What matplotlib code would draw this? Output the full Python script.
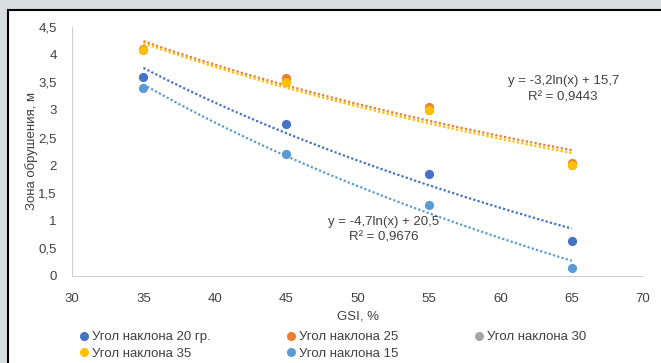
import numpy as np
import matplotlib
matplotlib.use('Agg')
import matplotlib.pyplot as plt
from matplotlib.lines import Line2D
from matplotlib.patches import Rectangle

plt.rcParams['font.family'] = ['Liberation Sans', 'DejaVu Sans']

BG = '#D8DDE0'
TEXT = '#404040'
AXIS = '#D0D0D0'

gsi = [35, 45, 55, 65]
series_names = ['Угол наклона 20 гр.', 'Угол наклона 25', 'Угол наклона 30',
                'Угол наклона 35', 'Угол наклона 15']
angle_20 = [3.6, 2.75, 1.85, 0.63]
angle_25 = [4.1, 3.57, 3.05, 2.04]
angle_30 = [4.08, 3.5, 3.0, 2.0]
angle_35 = [4.08, 3.5, 3.0, 2.0]
angle_15 = [3.4, 2.2, 1.28, 0.15]
colors = ['#4472C4', '#ED7D31', '#A5A5A5', '#FFC000', '#5B9BD5']
x_ticks = [30, 35, 40, 45, 50, 55, 60, 65, 70]
y_ticks = [0, 0.5, 1, 1.5, 2, 2.5, 3, 3.5, 4, 4.5]

fig = plt.figure(figsize=(6.61, 3.63), dpi=100, facecolor=BG)
# white chart panel with black frame (top / left)
fig.patches.append(Rectangle((8 / 661, -0.05), 1.1, 1 - 10 / 363 + 0.05,
                             transform=fig.transFigure, facecolor='white',
                             edgecolor='black', linewidth=1.5, zorder=-5))

ax = fig.add_axes([0.109, 0.240, 0.864, 0.686])
ax.set_facecolor('none')

all_series = [angle_20, angle_25, angle_30, angle_35, angle_15]
order = [2, 1, 3, 0, 4]
for i in order:
    ax.scatter(gsi, all_series[i], s=44, color=colors[i], zorder=3, linewidths=0)

# logarithmic trendlines
xs = np.linspace(gsi[0], gsi[-1], 100)
for i in [1, 3, 0, 4]:
    k, b = np.polyfit(np.log(gsi), all_series[i], 1)
    ax.plot(xs, k * np.log(xs) + b, color=colors[i], linestyle=(0, (1, 1)),
            linewidth=1.6, zorder=2)

ax.text(0.86, 0.75, 'y = -3,2ln(x) + 15,7\nR² = 0,9443', transform=ax.transAxes,
        ha='center', va='center', fontsize=9.5, color=TEXT, linespacing=1.45)
ax.text(0.546, 0.185, 'y = -4,7ln(x) + 20,5\nR² = 0,9676', transform=ax.transAxes,
        ha='center', va='center', fontsize=9.5, color=TEXT, linespacing=1.45)

ax.set_xlim(30, 70)
ax.set_ylim(0, 4.5)
ax.set_xticks(x_ticks)
ax.set_yticks(y_ticks)
ax.set_xticklabels([str(t) for t in x_ticks])
ax.set_yticklabels([f'{t:g}'.replace('.', ',') for t in y_ticks])
ax.tick_params(length=0, colors=TEXT, labelsize=9.5, pad=12)
ax.tick_params(axis='y', pad=11)
for s in ['top', 'right']:
    ax.spines[s].set_visible(False)
for s in ['left', 'bottom']:
    ax.spines[s].set_color(AXIS)
ax.set_xlabel('GSI, %', color=TEXT, fontsize=9.5, labelpad=4)
ax.set_ylabel('Зона обрушения, м', color=TEXT, fontsize=9.5, labelpad=0)

handles = [Line2D([], [], marker='o', linestyle='none', color=c, markersize=5.5)
           for c in colors]
leg_order = [0, 3, 1, 4, 2]  # column-major fill -> rows: 20, 25, 30 / 35, 15
ax.legend([handles[i] for i in leg_order], [series_names[i] for i in leg_order],
          loc='upper left', bbox_to_anchor=(0.0, -0.2), ncol=3, frameon=False,
          fontsize=9.5, labelcolor=TEXT, handletextpad=0.1, columnspacing=5.6,
          handlelength=1, borderaxespad=0, labelspacing=0.35)

fig.savefig('out.png', dpi=100, facecolor=BG)
